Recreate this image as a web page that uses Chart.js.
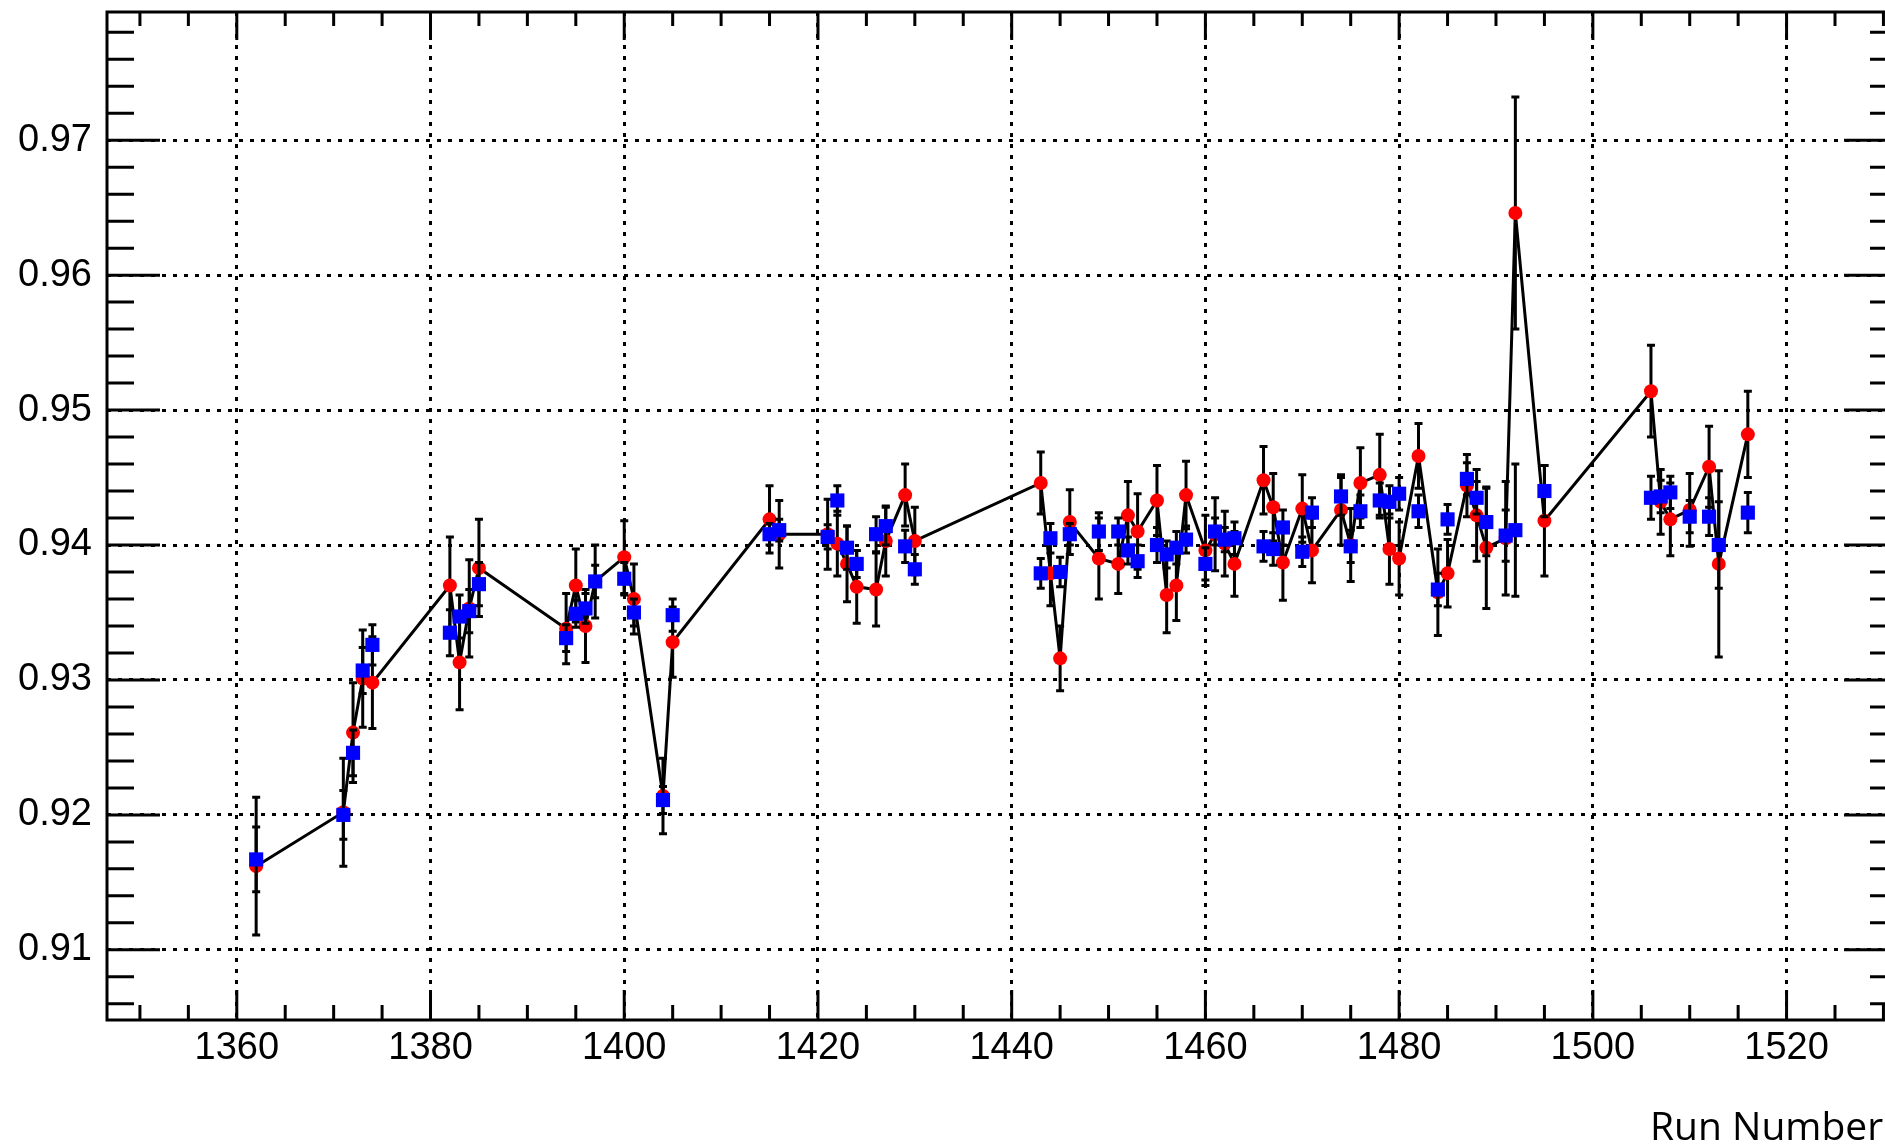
<!DOCTYPE html>
<html>
<head>
<meta charset="utf-8">
<script src="https://cdn.jsdelivr.net/npm/chart.js@4/dist/chart.umd.min.js"></script>
<style>
  html, body { margin:0; padding:0; background:#fff; overflow:hidden; }
  #wrap { width:1910px; height:1146px; }
</style>
</head>
<body>
<div id="wrap"><canvas id="chart" width="1910" height="1146"></canvas></div>
<script>
// Run numbers (x) shared by both graphs
const runs = [1362, 1371, 1372, 1373, 1374, 1382, 1383, 1384, 1385, 1394, 1395, 1396, 1397, 1400, 1401, 1404, 1405,
  1415, 1416, 1421, 1422, 1423, 1424, 1426, 1427, 1429, 1430, 1443, 1444, 1445, 1446, 1449, 1451, 1452, 1453,
  1455, 1456, 1457, 1458, 1460, 1461, 1462, 1463, 1466, 1467, 1468, 1470, 1471, 1474, 1475, 1476, 1478, 1479,
  1480, 1482, 1484, 1485, 1487, 1488, 1489, 1491, 1492, 1495, 1506, 1507, 1508, 1510, 1512, 1513, 1516];

// red circles (joined by the black line)
const redVal = [0.9162, 0.9202, 0.9261, 0.9301, 0.9298, 0.9370, 0.9313, 0.9353, 0.9383, 0.9338, 0.9370, 0.9340, 0.9373, 0.9391, 0.9360, 0.9214, 0.9328,
  0.9419, 0.9408, 0.9408, 0.9401, 0.9386, 0.9369, 0.9367, 0.9403, 0.9437, 0.9403, 0.9446, 0.9379, 0.9316, 0.9417, 0.9390, 0.9386, 0.9422, 0.9410,
  0.9433, 0.9363, 0.9370, 0.9437, 0.9396, 0.9408, 0.9401, 0.9386, 0.9448, 0.9428, 0.9387, 0.9427, 0.9396, 0.9426, 0.9400, 0.9446, 0.9452, 0.9397,
  0.9390, 0.9466, 0.9365, 0.9379, 0.9444, 0.9422, 0.9398, 0.9405, 0.9646, 0.9418, 0.9514, 0.9432, 0.9419, 0.9426, 0.9458, 0.9386, 0.9482];
const redErr = [0.0051, 0.0040, 0.0037, 0.0036, 0.0034, 0.0036, 0.0035, 0.0036, 0.0036, 0.0026, 0.0027, 0.0027, 0.0027, 0.0027, 0.0026, 0.0028, 0.0026,
  0.0025, 0.0025, 0.0026, 0.0024, 0.0028, 0.0027, 0.0027, 0.0026, 0.0023, 0.0025, 0.0023, 0.0024, 0.0024, 0.0024, 0.0030, 0.0022, 0.0025, 0.0028,
  0.0026, 0.0028, 0.0026, 0.0025, 0.0026, 0.0027, 0.0024, 0.0024, 0.0025, 0.0025, 0.0028, 0.0025, 0.0024, 0.0026, 0.0027, 0.0026, 0.0030, 0.0026,
  0.0027, 0.0024, 0.0032, 0.0025, 0.0023, 0.0034, 0.0045, 0.0042, 0.0086, 0.0041, 0.0034, 0.0024, 0.0027, 0.0027, 0.0030, 0.0069, 0.0032];

// blue squares
const blueVal = [0.9167, 0.9200, 0.9246, 0.9307, 0.9326, 0.9335, 0.9347, 0.9351, 0.9371, 0.9331, 0.9349, 0.9353, 0.9373, 0.9375, 0.9350, 0.9211, 0.9348,
  0.9408, 0.9411, 0.9406, 0.9433, 0.9398, 0.9386, 0.9408, 0.9414, 0.9399, 0.9382, 0.9379, 0.9405, 0.9380, 0.9408, 0.9410, 0.9410, 0.9396, 0.9388,
  0.9400, 0.9393, 0.9398, 0.9404, 0.9386, 0.9410, 0.9404, 0.9405, 0.9399, 0.9397, 0.9413, 0.9395, 0.9424, 0.9436, 0.9399, 0.9425, 0.9433, 0.9432,
  0.9438, 0.9425, 0.9367, 0.9419, 0.9449, 0.9435, 0.9417, 0.9407, 0.9411, 0.9440, 0.9435, 0.9436, 0.9439, 0.9421, 0.9421, 0.9400, 0.9424];
const blueErr = [0.0024, 0.0018, 0.0017, 0.0017, 0.0015, 0.0017, 0.0016, 0.0016, 0.0016, 0.0010, 0.0010, 0.0011, 0.0012, 0.0012, 0.0010, 0.0010, 0.0012,
  0.0008, 0.0008, 0.0009, 0.0011, 0.0016, 0.0010, 0.0013, 0.0014, 0.0012, 0.0011, 0.0011, 0.0011, 0.0011, 0.0008, 0.0014, 0.0010, 0.0010, 0.0012,
  0.0013, 0.0010, 0.0012, 0.0010, 0.0012, 0.0010, 0.0009, 0.0012, 0.0011, 0.0012, 0.0013, 0.0011, 0.0011, 0.0014, 0.0012, 0.0012, 0.0013, 0.0012,
  0.0012, 0.0012, 0.0012, 0.0011, 0.0012, 0.0012, 0.0025, 0.0019, 0.0049, 0.0019, 0.0016, 0.0012, 0.0012, 0.0012, 0.0014, 0.0032, 0.0015];

// axes
const xRange = [1346.6, 1531.4];
const yRange = [0.9048, 0.9795];
const xTicks = [1360, 1380, 1400, 1420, 1440, 1460, 1480, 1500, 1520];
const yTicks = [0.91, 0.92, 0.93, 0.94, 0.95, 0.96, 0.97];
const xTitle = 'Run Number';

const TICK_FONT = { family: '"Liberation Sans", Arial, sans-serif', size: 38 };

// vertical error bars with small end caps, drawn under each graph's markers
const ErrorBars = {
  id: 'errorBars',
  beforeDatasetDraw(chart, args) {
    const ds = chart.data.datasets[args.index];
    if (!ds.errors) return;
    const { ctx, scales: { x, y } } = chart;
    ctx.save();
    ctx.strokeStyle = '#000';
    ctx.lineWidth = 3;
    ctx.beginPath();
    ds.data.forEach((p, i) => {
      const e = ds.errors[i];
      const px = x.getPixelForValue(p.x);
      const top = y.getPixelForValue(p.y + e);
      const bot = y.getPixelForValue(p.y - e);
      ctx.moveTo(px, top); ctx.lineTo(px, bot);
      ctx.moveTo(px - 4, top); ctx.lineTo(px + 4, top);
      ctx.moveTo(px - 4, bot); ctx.lineTo(px + 4, bot);
    });
    ctx.stroke();
    ctx.restore();
  }
};

// ROOT-like frame: ticks on all four sides, pointing inwards
const RootFrame = {
  id: 'rootFrame',
  afterDraw(chart) {
    const { ctx, chartArea: a, scales: { x, y } } = chart;
    ctx.save();
    ctx.strokeStyle = '#000';
    ctx.lineWidth = 3;
    ctx.strokeRect(a.left, a.top, a.right - a.left, a.bottom - a.top);

    ctx.beginPath();
    for (let v = Math.ceil(x.min / 5) * 5; v <= x.max; v += 5) {
      const px = x.getPixelForValue(v);
      const major = v % 20 === 0;
      ctx.moveTo(px, a.bottom); ctx.lineTo(px, a.bottom - (major ? 30 : 15));
      ctx.moveTo(px, a.top); ctx.lineTo(px, a.top + (major ? 28 : 14));
    }
    for (let k = Math.ceil(y.min / 0.002); k * 0.002 <= y.max; k++) {
      const py = y.getPixelForValue(k * 0.002);
      const len = k % 5 === 0 ? 53 : 27;
      ctx.moveTo(a.left, py); ctx.lineTo(a.left + len, py);
      ctx.moveTo(a.right, py); ctx.lineTo(a.right - len, py);
    }
    ctx.stroke();

    ctx.fillStyle = '#000';
    ctx.font = '39px "Open Sans", "DejaVu Sans", sans-serif';
    ctx.textAlign = 'left';
    ctx.textBaseline = 'alphabetic';
    ctx.fillText(xTitle, 1650, 1140);
    ctx.restore();
  }
};

new Chart(document.getElementById('chart'), {
  type: 'scatter',
  data: {
    datasets: [
      {
        label: 'red',
        data: runs.map((r, i) => ({ x: r, y: redVal[i] })),
        errors: redErr,
        showLine: true,
        borderColor: '#000',
        borderWidth: 3,
        tension: 0,
        fill: false,
        pointStyle: 'circle',
        pointRadius: 7,
        pointBorderWidth: 0,
        pointBackgroundColor: '#ff0000',
        order: 2
      },
      {
        label: 'blue',
        data: runs.map((r, i) => ({ x: r, y: blueVal[i] })),
        errors: blueErr,
        showLine: false,
        pointStyle: 'rect',
        pointRadius: 10,
        pointBorderWidth: 0,
        pointBackgroundColor: '#0000ff',
        order: 1
      }
    ]
  },
  options: {
    responsive: false,
    animation: false,
    events: [],
    layout: { padding: { top: 12, right: 13, left: 0, bottom: 0 } },
    plugins: { legend: { display: false }, tooltip: { enabled: false } },
    scales: {
      x: {
        type: 'linear',
        min: xRange[0], max: xRange[1],
        afterBuildTicks: s => { s.ticks = xTicks.map(v => ({ value: v })); },
        afterFit: s => { s.height = 126; s.paddingLeft = 0; s.paddingRight = 0; },
        ticks: { callback: v => String(v), font: TICK_FONT, color: '#000', padding: 6, maxRotation: 0, autoSkip: false },
        grid: { color: '#000', lineWidth: 3, drawTicks: false },
        border: { display: false, dash: [4, 7] }
      },
      y: {
        type: 'linear',
        min: yRange[0], max: yRange[1],
        afterBuildTicks: s => { s.ticks = yTicks.map(v => ({ value: v })); },
        afterFit: s => { s.width = 107; s.paddingTop = 0; s.paddingBottom = 0; },
        ticks: { callback: v => v.toFixed(2), font: TICK_FONT, color: '#000', padding: 15, autoSkip: false },
        grid: { color: '#000', lineWidth: 3, drawTicks: false },
        border: { display: false, dash: [4, 7] }
      }
    }
  },
  plugins: [ErrorBars, RootFrame]
});
</script>
</body>
</html>
